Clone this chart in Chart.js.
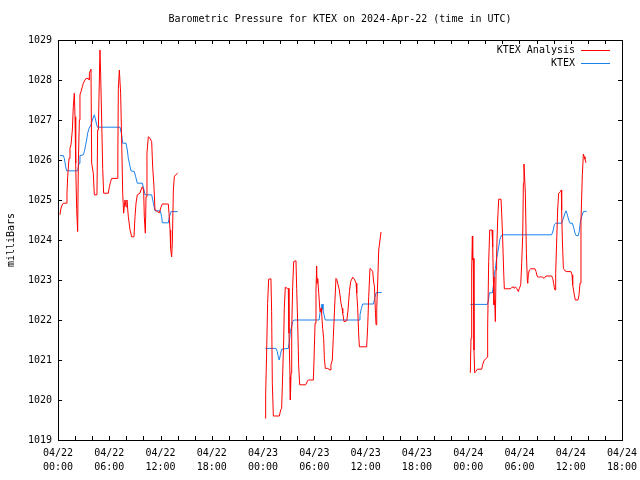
<!DOCTYPE html>
<html>
<head>
<meta charset="utf-8">
<script src="https://cdn.jsdelivr.net/npm/chart.js@4"></script>
<style>
  html, body { margin: 0; background: #fff; }
</style>
</head>
<body>
<canvas id="graph" width="640" height="480"></canvas>
<script>
"use strict";
// hours since 04/22 00:00 UTC, pressure in mb
var analysisHours1 = [0.23,0.31,0.43,0.62,1.01,1.05,1.13,1.29,1.40,1.52,1.68,1.79,1.91,1.99,2.07,2.18,2.30,2.38,2.50,2.57,2.69,2.85,2.96,3.16,3.28,3.55,3.63,3.67,3.82,3.86,3.94,4.13,4.25,4.56,4.64,4.72,4.91,4.99,5.11,5.23,5.34,5.89,6.01,6.16,6.28,6.98,7.0,7.06,7.18,7.33,7.45,7.57,7.68,7.84,7.96,8.07,8.23,8.43,8.62,8.89,9.01,9.13,9.28,9.59,9.71,9.87,10.02,10.10,10.22,10.30,10.41,10.57,10.77,10.96,11.08,11.23,11.35,11.62,11.86,12.05,12.21,12.91,12.99,13.11,13.18,13.30,13.38,13.50,13.61,13.77,14.0];
var analysisValues1 = [1024.63,1024.75,1024.85,1024.92,1024.92,1025.17,1025.58,1026.04,1026.29,1026.38,1026.75,1027.33,1027.67,1027.08,1025.92,1024.79,1024.21,1025.92,1027.0,1027.63,1027.71,1027.83,1027.92,1028.0,1028.04,1028.04,1028.0,1028.17,1028.25,1028.27,1025.92,1025.67,1025.13,1025.13,1026.75,1026.75,1028.75,1028.17,1027.0,1025.79,1025.17,1025.17,1025.33,1025.46,1025.54,1025.54,1026.0,1027.79,1028.25,1027.67,1026.5,1025.17,1024.67,1025.0,1024.83,1025.0,1024.58,1024.25,1024.08,1024.08,1024.58,1024.92,1025.13,1025.17,1025.25,1025.33,1025.25,1024.58,1024.17,1025.08,1026.17,1026.58,1026.54,1026.46,1025.83,1025.33,1024.75,1024.71,1024.68,1024.82,1024.9,1024.9,1024.67,1024.25,1023.79,1023.58,1023.92,1025.25,1025.58,1025.63,1025.67];
var analysisHours2 = [24.26,24.30,24.42,24.53,24.65,24.92,25.0,25.08,25.2,25.9,26.06,26.17,26.25,26.41,26.48,26.6,26.84,26.95,27.03,27.15,27.19,27.27,27.35,27.46,27.58,27.85,27.93,28.05,28.16,28.28,28.98,29.21,29.3,29.88,29.96,30.08,30.19,30.27,30.31,30.39,30.51,30.66,30.78,30.85,30.97,31.09,31.17,31.28,31.56,31.83,31.94,32.1,32.22,32.41,32.53,32.61,32.73,32.92,33.12,33.24,33.32,33.47,33.79,33.94,34.1,34.25,34.49,34.68,34.88,34.96,35.07,35.19,35.27,36.12,36.24,36.36,36.51,36.71,36.83,36.91,37.03,37.15,37.22,37.3,37.42,37.53,37.8];
var analysisValues2 = [1019.54,1020.13,1021.25,1022.42,1023.02,1023.03,1022.21,1020.42,1019.6,1019.6,1019.75,1019.79,1020.33,1021.5,1022.29,1022.82,1022.79,1022.79,1021.67,1020.58,1020.0,1020.67,1021.75,1022.83,1023.46,1023.48,1022.79,1021.92,1020.88,1020.38,1020.38,1020.48,1020.5,1020.5,1021.0,1021.92,1022.75,1023.35,1022.92,1023.04,1022.67,1022.21,1022.29,1022.17,1021.79,1021.54,1021.04,1020.79,1020.79,1020.75,1020.88,1021.0,1021.58,1022.5,1023.04,1023.02,1022.92,1022.75,1022.42,1022.29,1022.17,1021.96,1021.98,1022.25,1022.71,1022.96,1023.07,1023.02,1022.92,1022.67,1022.29,1021.63,1021.33,1021.33,1021.83,1022.58,1023.29,1023.25,1023.21,1023.0,1022.83,1022.17,1021.88,1022.29,1023.0,1023.75,1024.2];
var analysisHours3 = [48.25,48.33,48.41,48.49,48.53,48.6,48.68,48.76,48.88,49.07,49.58,49.69,49.85,50.09,50.24,50.28,50.4,50.52,50.79,50.87,50.94,51.02,51.1,51.18,51.26,51.33,51.45,51.57,51.84,51.92,52.04,52.16,52.23,52.9,53.09,53.29,53.4,53.52,53.68,53.87,53.99,54.15,54.26,54.38,54.46,54.53,54.69,54.81,54.93,54.96,55.04,55.16,55.31,55.82,55.94,56.1,56.25,56.48,56.72,56.88,57.11,57.77,57.89,58.0,58.08,58.16,58.24,58.36,58.47,58.59,58.79,58.9,58.94,59.02,59.14,59.33,59.53,60.03,60.15,60.23,60.42,60.54,60.85,60.97,61.09,61.2,61.36,61.48,61.59,61.67,61.79];
var analysisValues3 = [1020.68,1021.54,1023.25,1024.1,1023.5,1023.54,1021.25,1020.68,1020.71,1020.77,1020.77,1020.88,1020.98,1021.04,1021.07,1021.83,1023.46,1024.25,1024.25,1023.83,1023.08,1022.38,1022.5,1021.96,1023.25,1023.67,1024.5,1025.02,1025.02,1024.67,1024.0,1023.17,1022.78,1022.78,1022.81,1022.83,1022.79,1022.83,1022.79,1022.71,1022.79,1022.88,1023.42,1024.08,1025.42,1025.9,1025.17,1023.67,1022.96,1022.92,1023.13,1023.25,1023.28,1023.28,1023.21,1023.08,1023.07,1023.08,1023.07,1023.04,1023.1,1023.1,1023.04,1022.92,1022.81,1022.75,1023.17,1024.0,1024.75,1025.17,1025.21,1025.25,1024.75,1024.0,1023.29,1023.23,1023.21,1023.21,1023.13,1022.88,1022.63,1022.5,1022.5,1022.63,1022.92,1024.5,1025.63,1026.15,1026.08,1026.02,1025.93];

var ktexHours1 = [0.23,0.62,0.74,0.90,1.01,2.30,2.46,2.57,2.96,3.08,3.24,3.35,3.47,3.63,3.86,4.02,4.25,4.41,4.52,4.64,7.26,7.45,7.57,7.96,8.11,8.23,8.54,8.93,9.09,9.28,9.87,9.98,10.18,10.96,11.16,11.35,11.97,12.13,12.21,12.91,13.03,13.22,14.0];
var ktexValues1 = [1026.11,1026.11,1026.04,1025.83,1025.73,1025.73,1025.92,1026.11,1026.13,1026.21,1026.38,1026.5,1026.67,1026.79,1026.88,1027.0,1027.13,1027.0,1026.88,1026.82,1026.82,1026.63,1026.42,1026.42,1026.25,1026.04,1025.73,1025.71,1025.58,1025.42,1025.42,1025.33,1025.13,1025.13,1024.92,1024.73,1024.73,1024.58,1024.43,1024.43,1024.58,1024.71,1024.71];
var ktexHours2 = [24.26,25.51,25.66,25.78,25.9,26.02,26.17,26.95,27.07,27.19,27.35,27.46,27.62,30.55,30.66,30.78,30.9,31.01,31.13,31.28,35.23,35.34,35.5,35.65,36.91,37.06,37.22,37.88];
var ktexValues2 = [1021.29,1021.29,1021.21,1021.08,1021.0,1021.13,1021.27,1021.29,1021.46,1021.71,1021.85,1021.96,1022.0,1022.0,1022.18,1022.26,1022.4,1022.26,1022.13,1022.0,1022.0,1022.13,1022.29,1022.4,1022.4,1022.54,1022.68,1022.69];
var ktexHours3 = [48.25,50.24,50.36,50.48,50.83,50.94,51.06,51.18,51.33,51.45,51.57,51.72,51.88,51.96,57.77,57.96,58.08,58.24,58.94,59.14,59.33,59.45,59.61,59.76,59.92,60.19,60.35,60.5,60.62,60.89,61.01,61.13,61.28,61.48,61.87];
var ktexValues3 = [1022.39,1022.39,1022.48,1022.68,1022.68,1022.83,1023.13,1023.29,1023.54,1023.67,1023.83,1024.02,1024.11,1024.13,1024.13,1024.25,1024.38,1024.42,1024.42,1024.54,1024.67,1024.73,1024.63,1024.5,1024.42,1024.42,1024.31,1024.17,1024.11,1024.11,1024.23,1024.46,1024.58,1024.71,1024.72];

var tickHours = [0, 6, 12, 18, 24, 30, 36, 42, 48, 54, 60, 66];
var tickDays = ["04/22", "04/22", "04/22", "04/22", "04/23", "04/23", "04/23", "04/23", "04/24", "04/24", "04/24", "04/24"];
var tickTimes = ["00:00", "06:00", "12:00", "18:00", "00:00", "06:00", "12:00", "18:00", "00:00", "06:00", "12:00", "18:00"];

var titleText = "Barometric Pressure for KTEX on 2024-Apr-22 (time in UTC)";
var yTitle = "milliBars";
var seriesNames = ["KTEX Analysis", "KTEX"];
var seriesColors = ["#ff0000", "#1a80ea"];

var FONT = "10px 'DejaVu Sans Mono'";

//glue the pieces together, a null between them breaks the line
function joinSegments(hours, values) {
  var pts = [];
  for (let i = 0; i < hours.length; i++) {
    if (i > 0) pts.push({ x: (hours[i - 1][hours[i - 1].length - 1] + hours[i][0]) / 2, y: null });
    for (let j = 0; j < hours[i].length; j++) pts.push({ x: hours[i][j], y: values[i][j] });
  }
  return pts;
}

var decor = {
  id: "decor",
  afterDraw: function (chart) {
    var ctx = chart.ctx;
    var a = chart.chartArea;
    var xs = chart.scales.x, ys = chart.scales.y;
    ctx.save();
    ctx.strokeStyle = "#000";
    ctx.lineWidth = 1;
    ctx.beginPath();
    //inward ticks, every 2 hours and every millibar
    for (let h = 0; h <= 66; h += 2) {
      var px = Math.round(xs.getPixelForValue(h)) + 0.5;
      ctx.moveTo(px, a.bottom); ctx.lineTo(px, a.bottom - 4);
      ctx.moveTo(px, a.top); ctx.lineTo(px, a.top + 4);
    }
    for (let p = 1019; p <= 1029; p++) {
      var py = Math.round(ys.getPixelForValue(p)) + 0.5;
      ctx.moveTo(a.left, py); ctx.lineTo(a.left + 4, py);
      ctx.moveTo(a.right, py); ctx.lineTo(a.right - 4, py);
    }
    ctx.stroke();
    ctx.strokeRect(Math.round(a.left) + 0.5, Math.round(a.top) + 0.5, Math.round(a.right - a.left), Math.round(a.bottom - a.top));

    ctx.fillStyle = "#000";
    ctx.font = FONT;
    ctx.textBaseline = "middle";
    ctx.textAlign = "center";
    ctx.fillText(titleText, (a.left + a.right) / 2, 19);

    ctx.save();
    ctx.translate(11, (a.top + a.bottom) / 2);
    ctx.rotate(-Math.PI / 2);
    ctx.fillText(yTitle, 0, 0);
    ctx.restore();

    //legend in the top right corner, key line right of the text
    ctx.textAlign = "right";
    for (let i = 0; i < seriesNames.length; i++) {
      var ly = 50 + i * 13;
      ctx.fillStyle = "#000";
      ctx.fillText(seriesNames[i], 575, ly);
      ctx.strokeStyle = seriesColors[i];
      ctx.beginPath();
      ctx.moveTo(581, ly + 0.5); ctx.lineTo(610, ly + 0.5);
      ctx.stroke();
    }
    ctx.restore();
  }
};

Chart.defaults.font.family = "'DejaVu Sans Mono'";
Chart.defaults.font.size = 10;
Chart.defaults.color = "#000";

new Chart(document.getElementById("graph"), {
  type: "line",
  data: {
    datasets: [
      {
        label: seriesNames[0],
        data: joinSegments([analysisHours1, analysisHours2, analysisHours3], [analysisValues1, analysisValues2, analysisValues3]),
        borderColor: seriesColors[0],
        borderWidth: 1,
        pointRadius: 0,
        tension: 0,
        spanGaps: false
      },
      {
        label: seriesNames[1],
        data: joinSegments([ktexHours1, ktexHours2, ktexHours3], [ktexValues1, ktexValues2, ktexValues3]),
        borderColor: seriesColors[1],
        borderWidth: 1,
        pointRadius: 0,
        tension: 0,
        spanGaps: false
      }
    ]
  },
  options: {
    responsive: false,
    animation: false,
    layout: { padding: { top: 40, right: 18, left: 0, bottom: 0 } },
    plugins: { legend: { display: false }, tooltip: { enabled: false }, title: { display: false } },
    scales: {
      x: {
        type: "linear",
        min: 0,
        max: 66,
        afterFit: function (s) { s.height = 40; s.paddingLeft = 0; s.paddingRight = 0; },
        afterBuildTicks: function (s) { s.ticks = tickHours.map(function (h) { return { value: h }; }); },
        ticks: {
          autoSkip: false,
          maxRotation: 0,
          padding: 6,
          font: { lineHeight: 1.45 },
          callback: function (v, i) { return [tickDays[i], tickTimes[i]]; }
        },
        grid: { display: false, drawTicks: false },
        border: { display: false }
      },
      y: {
        min: 1019,
        max: 1029,
        afterFit: function (s) { s.width = 58; s.paddingTop = 0; s.paddingBottom = 0; },
        ticks: { stepSize: 1, padding: 6, callback: function (v) { return String(v); } },
        grid: { display: false, drawTicks: false },
        border: { display: false }
      }
    }
  },
  plugins: [decor]
});
</script>
</body>
</html>
